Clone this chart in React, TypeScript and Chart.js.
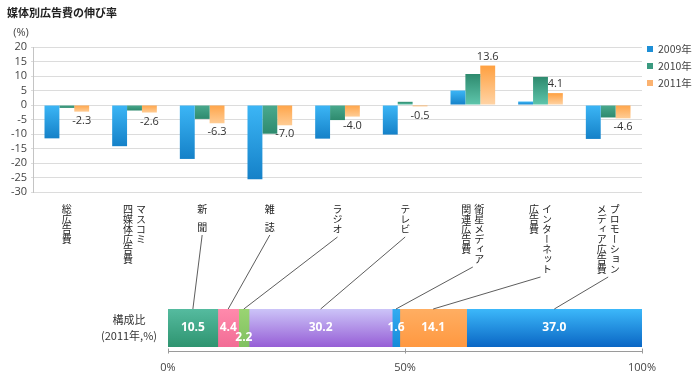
import React, { useEffect, useRef, useState } from "react";
import { Chart, registerables } from "chart.js";
Chart.register(...registerables);

const W = 698;
const H = 381;
const NUM_FONT = "'Open Sans', 'Noto Sans CJK JP', sans-serif";
const JP_FONT = "'Noto Sans CJK JP', 'Open Sans', sans-serif";

// ---------- data ----------
const title = "媒体別広告費の伸び率";
const unitLabel = "(%)";
const categoryColumns: string[][] = [
  ["総広告費"],
  ["マスコミ", "四媒体広告費"],
  ["新聞"],
  ["雑誌"],
  ["ラジオ"],
  ["テレビ"],
  ["衛星メディア", "関連広告費"],
  ["インターネット", "広告費"],
  ["プロモーション", "メディア広告費"],
];
const categoryLetterSpacing = [0, 0, 8, 8, 0, 0, 0, 0, 0];
const seriesNames = ["2009年", "2010年", "2011年"];
const values2009 = [-11.5, -14.2, -18.6, -25.6, -11.6, -10.2, 5.0, 1.2, -11.7];
const values2010 = [-1.0, -1.9, -4.8, -9.9, -5.2, 1.1, 10.7, 9.7, -4.3];
const values2011 = [-2.3, -2.6, -6.3, -7.0, -4.0, -0.5, 13.6, 4.1, -4.6];
const yMin = -30;
const yMax = 20;
const yStep = 5;

const shareTitle = ["構成比", "(2011年,%)"];
const shareValues = [10.5, 4.4, 2.2, 30.2, 1.6, 14.1, 37.0];
const shareCategory = [2, 3, 4, 5, 6, 7, 8];
const shareMax = 100;
const shareStep = 50;

// ---------- styles ----------
const seriesColors = [
  { posTop: "#3cb6f6", posBot: "#1581c8", negTop: "#3cb6f6", negBot: "#1581c8", legend: "#1e8fd6" },
  { posTop: "#2e8a6e", posBot: "#5fc6ac", negTop: "#4aaa8e", negBot: "#2e8a6e", legend: "#3a9a80" },
  { posTop: "#ffa040", posBot: "#ffd4a6", negTop: "#ffa448", negBot: "#ffcc94", legend: "#fbb270" },
];
const segColors = [
  ["#55bb9f", "#2e9470"],
  ["#ff8aac", "#f26c95"],
  ["#9ad472", "#80c060"],
  ["#ccc4f8", "#965ed6"],
  ["#32acf2", "#168ad8"],
  ["#ffae62", "#ff9840"],
  ["#3cb8fa", "#0a66c4"],
];

const LABEL_TOP = 204;
const CHAR = 10;

function barGradient(si: number) {
  return (ctx: any) => {
    const c = seriesColors[si];
    const chart = ctx.chart;
    const y = chart.scales && chart.scales.y;
    if (ctx.type !== "data" || !y) return c.legend;
    const v = ctx.raw as number;
    const p0 = y.getPixelForValue(0);
    const p1 = y.getPixelForValue(v);
    const t = Math.min(p0, p1);
    const b = Math.max(p0, p1);
    if (!isFinite(t) || !isFinite(b) || b - t < 0.5) return c.legend;
    const g = chart.ctx.createLinearGradient(0, t, 0, b);
    if (v >= 0) {
      g.addColorStop(0, c.posTop);
      g.addColorStop(1, c.posBot);
    } else {
      g.addColorStop(0, c.negTop);
      g.addColorStop(1, c.negBot);
    }
    return g;
  };
}

function segGradient(i: number) {
  return (ctx: any) => {
    const chart = ctx.chart;
    const a = chart.chartArea;
    if (!a) return segColors[i][1];
    const g = chart.ctx.createLinearGradient(0, a.top, 0, a.bottom);
    g.addColorStop(0, segColors[i][0]);
    g.addColorStop(1, segColors[i][1]);
    return g;
  };
}

function labelBottom(ci: number) {
  const n = Math.max(...categoryColumns[ci].map((s) => s.length));
  return LABEL_TOP + n * CHAR + (n - 1) * categoryLetterSpacing[ci] + 3;
}

const topDecor = {
  id: "topDecor",
  afterDraw(chart: any) {
    const ctx = chart.ctx;
    ctx.save();
    ctx.fillStyle = "#222";
    ctx.font = `bold 11px ${JP_FONT}`;
    ctx.textAlign = "left";
    ctx.textBaseline = "middle";
    ctx.fillText(title, 7, 13);
    ctx.fillStyle = "#444";
    ctx.font = `11px ${NUM_FONT}`;
    ctx.textAlign = "center";
    ctx.fillText(unitLabel, 21, 33);
    ctx.font = `10.5px ${JP_FONT}`;
    ctx.textAlign = "left";
    seriesNames.forEach((n, i) => {
      const yy = 49 + i * 17;
      ctx.fillStyle = seriesColors[i].legend;
      ctx.fillRect(647, yy - 3, 6, 6);
      ctx.fillStyle = "#444";
      ctx.fillText(n, 658, yy);
    });
    const meta = chart.getDatasetMeta(2);
    ctx.font = `11px ${NUM_FONT}`;
    ctx.fillStyle = "#333";
    ctx.textAlign = "center";
    meta.data.forEach((el: any, i: number) => {
      const v = values2011[i];
      const yy = v >= 0 ? el.y - 9 : el.y + 9;
      ctx.fillText(v.toFixed(1), el.x, yy);
    });
    ctx.restore();
  },
};

const botDecor = {
  id: "botDecor",
  afterDatasetsDraw(chart: any) {
    const ctx = chart.ctx;
    ctx.save();
    ctx.font = `bold 12px ${NUM_FONT}`;
    ctx.fillStyle = "#ffffff";
    ctx.textAlign = "center";
    ctx.textBaseline = "middle";
    shareValues.forEach((v, i) => {
      const el: any = chart.getDatasetMeta(i).data[0];
      const cx = (el.x + el.base) / 2;
      const yy = v < 3 && v > 2 ? el.y + 10 : el.y;
      ctx.fillText(v.toFixed(1), cx, yy);
    });
    const xs = chart.scales.x;
    const ay = chart.chartArea.bottom + 4.5;
    ctx.strokeStyle = "#9a9a9a";
    ctx.lineWidth = 1;
    ctx.beginPath();
    ctx.moveTo(xs.getPixelForValue(0), ay);
    ctx.lineTo(xs.getPixelForValue(shareMax), ay);
    for (let t = 0; t <= shareMax; t += shareStep) {
      const px = Math.round(xs.getPixelForValue(t)) + 0.5;
      ctx.moveTo(px, ay - 3);
      ctx.lineTo(px, ay + 2);
    }
    ctx.stroke();
    ctx.restore();
  },
};

export default function App() {
  const topRef = useRef<HTMLCanvasElement>(null);
  const botRef = useRef<HTMLCanvasElement>(null);
  const lineRef = useRef<HTMLCanvasElement>(null);
  const [centers, setCenters] = useState<number[]>([]);

  useEffect(() => {
    const top = new Chart(topRef.current as HTMLCanvasElement, {
      type: "bar",
      data: {
        labels: categoryColumns.map((c) => c.join("")),
        datasets: [values2009, values2010, values2011].map((d, i) => ({
          label: seriesNames[i],
          data: d,
          backgroundColor: barGradient(i),
          borderWidth: 0,
          categoryPercentage: 0.66,
          barPercentage: 1.0,
        })),
      },
      options: {
        responsive: false,
        animation: false,
        layout: { padding: { left: 0, right: 56, top: 47, bottom: 189 } },
        plugins: { legend: { display: false }, tooltip: { enabled: false } },
        scales: {
          x: { display: false },
          y: {
            min: yMin,
            max: yMax,
            ticks: {
              stepSize: yStep,
              autoSkip: false,
              color: "#444",
              padding: 4,
              font: { family: NUM_FONT, size: 11 },
            },
            grid: { color: "#dcdcdc", tickLength: 2 },
            border: { color: "#c4c4c4" },
            afterFit: (s: any) => {
              s.width = 33;
            },
          },
        },
      },
      plugins: [topDecor],
    } as any);

    const bot = new Chart(botRef.current as HTMLCanvasElement, {
      type: "bar",
      data: {
        labels: [shareTitle],
        datasets: shareValues.map((v, i) => ({
          data: [v],
          backgroundColor: segGradient(i),
          borderWidth: 0,
          barPercentage: 1,
          categoryPercentage: 1,
        })),
      },
      options: {
        indexAxis: "y",
        responsive: false,
        animation: false,
        layout: { padding: { left: 56, right: 56, top: 309, bottom: 0 } },
        plugins: { legend: { display: false }, tooltip: { enabled: false } },
        scales: {
          x: {
            stacked: true,
            min: 0,
            max: shareMax,
            ticks: {
              stepSize: shareStep,
              callback: (v: any) => v + "%",
              padding: 14,
              color: "#444",
              font: { family: NUM_FONT, size: 11 },
            },
            grid: { display: false, drawTicks: false },
            border: { display: false },
            afterFit: (s: any) => {
              s.height = 34;
            },
          },
          y: {
            stacked: true,
            ticks: {
              crossAlign: "center",
              color: "#333",
              font: { family: JP_FONT, size: 11, lineHeight: 1.45 },
            },
            grid: { display: false },
            border: { display: false },
            afterFit: (s: any) => {
              s.width = 112;
            },
          },
        },
      },
      plugins: [botDecor],
    } as any);

    const xs = categoryColumns.map((_, i) => top.scales.x.getPixelForValue(i));
    setCenters(xs);

    const lc = lineRef.current as HTMLCanvasElement;
    const o = lc.getContext("2d") as CanvasRenderingContext2D;
    o.clearRect(0, 0, W, H);
    o.strokeStyle = "#333";
    o.lineWidth = 0.8;
    let cum = 0;
    shareValues.forEach((v, k) => {
      const ci = shareCategory[k];
      const x1 = xs[ci];
      const y1 = labelBottom(ci);
      const x2 = bot.scales.x.getPixelForValue(cum + v / 2);
      const y2 = bot.chartArea.top;
      cum += v;
      o.beginPath();
      o.moveTo(x1, y1);
      o.lineTo(x2, y2);
      o.stroke();
    });

    return () => {
      top.destroy();
      bot.destroy();
    };
  }, []);

  const canvasStyle: React.CSSProperties = {
    position: "absolute",
    left: 0,
    top: 0,
    width: W,
    height: H,
  };

  return (
    <div
      style={{
        position: "absolute",
        left: 0,
        top: 0,
        width: W,
        height: H,
        overflow: "hidden",
        background: "#ffffff",
      }}
    >
      <canvas ref={topRef} width={W} height={H} style={canvasStyle} />
      <canvas ref={botRef} width={W} height={H} style={canvasStyle} />
      <canvas ref={lineRef} width={W} height={H} style={canvasStyle} />
      {centers.map((x, i) => (
        <div
          key={i}
          style={{
            position: "absolute",
            left: x,
            top: LABEL_TOP,
            transform: "translateX(-50%)",
            writingMode: "vertical-rl",
            fontFamily: JP_FONT,
            fontSize: CHAR,
            lineHeight: "13px",
            letterSpacing: categoryLetterSpacing[i],
            color: "#222",
            whiteSpace: "nowrap",
          }}
        >
          {categoryColumns[i].map((col, j) => (
            <React.Fragment key={j}>
              {j > 0 && <br />}
              {col}
            </React.Fragment>
          ))}
        </div>
      ))}
    </div>
  );
}
